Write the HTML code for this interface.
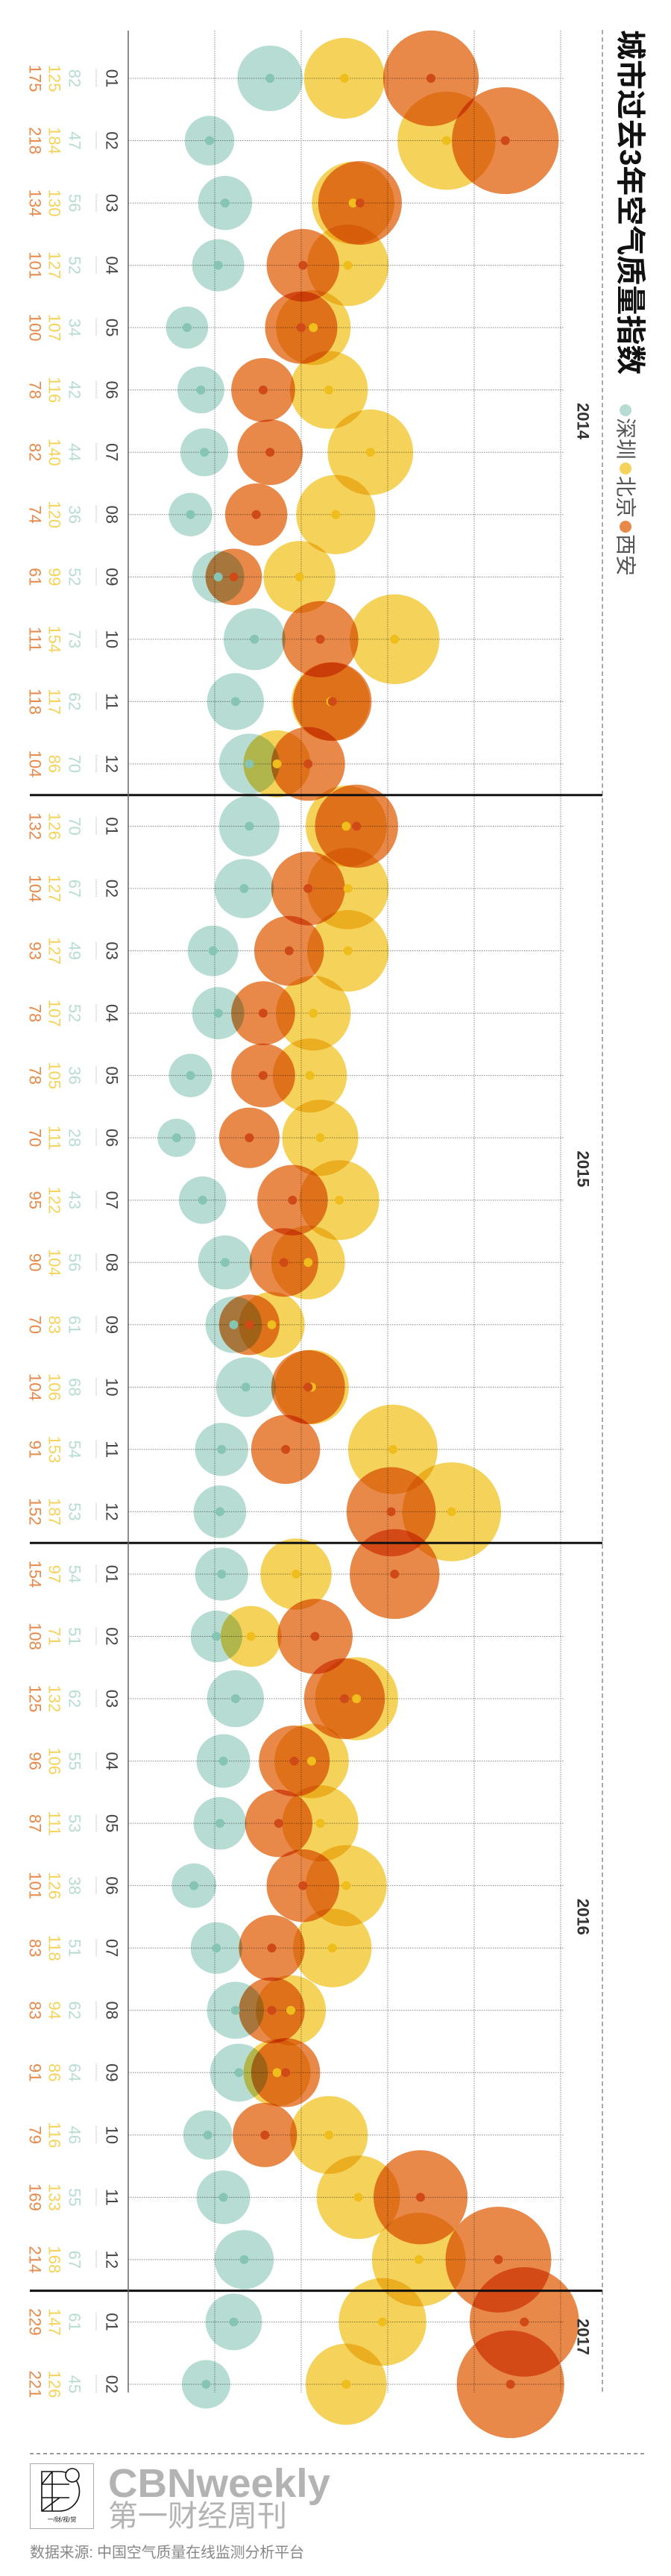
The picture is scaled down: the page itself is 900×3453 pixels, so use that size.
<!DOCTYPE html>
<html><head><meta charset="utf-8">
<style>
html,body{margin:0;padding:0;background:#fff;}
svg{display:block;}
text{font-family:"Liberation Sans","Noto Sans CJK SC",sans-serif;}
</style></head>
<body>
<svg id="chart" width="900" height="3453" viewBox="0 0 900 3453" xmlns="http://www.w3.org/2000/svg">
  <g id="grid"></g>
  <g id="rows"></g>
  <g id="bubbles"></g>
  <g id="dots"></g>
  <g id="years"></g>
  <line x1="172" y1="41" x2="172" y2="3207" stroke="#666" stroke-width="1.5"/>
  <line x1="808" y1="40" x2="808" y2="3207" stroke="#555" stroke-width="1" stroke-dasharray="6,4"/>
  <text x="845" y="40" transform="rotate(90,845,40)" font-size="40" font-weight="bold" fill="#111" dominant-baseline="central">城市过去3年空气质量指数</text>
  <g>
    <circle cx="839" cy="550" r="8" fill="#b7dcd3"/>
    <text x="839" y="560" transform="rotate(90,839,560)" font-size="28" fill="#555" dominant-baseline="central">深圳</text>
    <circle cx="839" cy="628" r="8" fill="#f5d35a"/>
    <text x="839" y="638" transform="rotate(90,839,638)" font-size="28" fill="#555" dominant-baseline="central">北京</text>
    <circle cx="839" cy="706" r="8" fill="#e8894a"/>
    <text x="839" y="716" transform="rotate(90,839,716)" font-size="28" fill="#555" dominant-baseline="central">西安</text>
  </g>
  <line x1="40" y1="3289" x2="866" y2="3289" stroke="#999" stroke-width="2" stroke-dasharray="5,4"/>
  <g>
    <rect x="40.5" y="3302.5" width="85" height="87" fill="#fff" stroke="#aaa"/>
    <path d="M56 3313 H80 A22 22 0 0 1 80 3366 H56 Z M56 3330 H93 M56 3348 H93 M70 3313 V3366 M56 3330 L70 3313 M56 3366 L80 3348" fill="none" stroke="#111" stroke-width="1.6"/>
    <circle cx="97" cy="3318" r="9" fill="#fff" stroke="#111" stroke-width="1.6"/>
    <text x="83" y="3380" font-size="8" text-anchor="middle" fill="#111">一/财/视/觉</text>
  </g>
  <text x="145" y="3347" font-size="54" font-weight="bold" fill="#b3b3b3" textLength="298" lengthAdjust="spacingAndGlyphs">CBNweekly</text>
  <text x="145" y="3386" font-size="40" fill="#b3b3b3" textLength="240">第一财经周刊</text>
  <text x="40" y="3428" font-size="20" fill="#888" textLength="368">数据来源: 中国空气质量在线监测分析平台</text>
</svg>
<script>
const months = ["01","02","03","04","05","06","07","08","09","10","11","12","01","02","03","04","05","06","07","08","09","10","11","12","01","02","03","04","05","06","07","08","09","10","11","12","01","02"];
const yearLabels = ["2014","2015","2016","2017"];
const yearStart = [0,12,24,36];
const shenzhen = [82,47,56,52,34,42,44,36,52,73,62,70, 70,67,49,52,36,28,43,56,61,68,54,53, 54,51,62,55,53,38,51,62,64,46,55,67, 61,45];
const beijing = [125,184,130,127,107,116,140,120,99,154,117,86, 126,127,127,107,105,111,122,104,83,106,153,187, 97,71,132,106,111,126,118,94,86,116,133,168, 147,126];
const xian = [175,218,134,101,100,78,82,74,61,111,118,104, 132,104,93,78,78,70,95,90,70,104,91,152, 154,108,125,96,87,101,83,83,91,79,169,214, 229,221];
const gridTicks = [50,100,150,200,250];

const NS = "http://www.w3.org/2000/svg";
const X0 = 172, PX = 2.32, Y0 = 105, DY = 83.54, RK = 4.85;
function xs(v){ return X0 + v*PX; }
function ys(i){ return Y0 + i*DY; }
function rs(v){ return RK*Math.sqrt(v); }
function mk(tag, attrs, parent){
  const e = document.createElementNS(NS, tag);
  for (const k in attrs) e.setAttribute(k, attrs[k]);
  parent.appendChild(e);
  return e;
}
const grid = document.getElementById('grid');
const rows = document.getElementById('rows');
const bubbles = document.getElementById('bubbles');
const dots = document.getElementById('dots');
const years = document.getElementById('years');
const yEnd = 3207;

gridTicks.forEach(t => {
  const l = mk('line', {x1:xs(t), y1:41, x2:xs(t), y2:yEnd, stroke:'#888', 'stroke-width':1, 'stroke-dasharray':'1.5,1.5'}, grid);
  
  
});

months.forEach((m, i) => {
  const y = ys(i);
  const hl = mk('line', {x1:X0, y1:y, x2:xs(250)+4, y2:y, stroke:'#888', 'stroke-width':1, 'stroke-dasharray':'1.5,1.5'}, grid);
  
  
  const tick = mk('line', {x1:129, y1:y-12, x2:129, y2:y+12, stroke:'#aaa', 'stroke-width':1, 'stroke-dasharray':'1,1'}, rows);
  
  
  const labs = [[150, m, '#444', 'month-label'], [100, shenzhen[i], '#b7dcd3', 'shenzhen-value'], [73, beijing[i], '#f5d35a', 'beijing-value'], [47, xian[i], '#e8894a', 'xian-value']];
  labs.forEach(L => {
    const t = mk('text', {x:L[0], y:y, transform:'rotate(90,'+L[0]+','+y+')', 'font-size':22, fill:L[2], 'text-anchor':'middle', 'dominant-baseline':'central'}, rows);
    t.textContent = L[1];
    
    
  });
  const series = [[shenzhen[i], '#b7dcd3', '#86c4b4', 'bubble-shenzhen'], [beijing[i], '#f5d35a', '#efbd1c', 'bubble-beijing'], [xian[i], '#e8894a', '#cf4a17', 'bubble-xian']];
  series.forEach(S => {
    const c = mk('circle', {cx:xs(S[0]), cy:y, r:rs(S[0]), fill:S[1], style:'mix-blend-mode:multiply'}, bubbles);
    
    
    const d = mk('circle', {cx:xs(S[0]), cy:y, r:6, fill:S[2]}, dots);
    
    
  });
});

yearLabels.forEach((yl, k) => {
  const s = yearStart[k];
  const e = (k+1 < yearStart.length ? yearStart[k+1] : months.length) - 1;
  if (k > 0) {
    const ly = (ys(s-1) + ys(s)) / 2;
    const sep = mk('line', {x1:40, y1:ly, x2:808, y2:ly, stroke:'#111', 'stroke-width':3}, years);
    
    
  }
  let cy = (ys(s) + ys(e)) / 2;
  if (e - s < 3) cy = ys(s) + 20;
  const t = mk('text', {x:782, y:cy, transform:'rotate(90,782,'+cy+')', 'font-size':22, 'font-weight':'bold', fill:'#333', 'text-anchor':'middle', 'dominant-baseline':'central'}, years);
  t.textContent = yl;
  
  
});
</script>
</body></html>
